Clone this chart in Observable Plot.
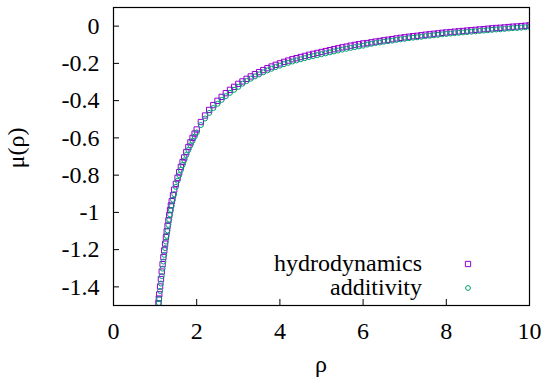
<!DOCTYPE html>
<html><head><meta charset="utf-8">
<script src="https://cdn.jsdelivr.net/npm/d3@7"></script>
<script src="https://cdn.jsdelivr.net/npm/@observablehq/plot@0.6"></script>
<style>
html,body{margin:0;padding:0;background:#fff}
#chart svg{display:block}
#chart svg, #chart svg text{font-family:"Liberation Serif",serif !important;}
</style>
</head><body><div id="chart"></div>
<script>
const rho = [1.08,1.09,1.10,1.12,1.14,1.16,1.18,1.20,1.22,1.24,1.26,1.28,1.30,1.32,1.34,1.36,1.38,1.40,1.43,1.46,1.50,1.54,1.58,1.62,1.66,1.70,1.75,1.80,1.85,1.90,1.95,2.00,
2.1,2.2,2.3,2.4,2.5,2.6,2.7,2.8,2.9,3.0,3.1,3.2,3.3,3.4,3.5,3.6,3.7,3.8,3.9,4.0,
4.1,4.2,4.3,4.4,4.5,4.6,4.7,4.8,4.9,5.0,5.1,5.2,5.3,5.4,5.5,5.6,5.7,5.8,5.9,6.0,
6.1,6.2,6.3,6.4,6.5,6.6,6.7,6.8,6.9,7.0,7.1,7.2,7.3,7.4,7.5,7.6,7.7,7.8,7.9,8.0,
8.1,8.2,8.3,8.4,8.5,8.6,8.7,8.8,8.9,9.0,9.1,9.2,9.3,9.4,9.5,9.6,9.7,9.8,9.9,10.0];

const muHydro = [-1.488,-1.463,-1.440,-1.398,-1.358,-1.318,-1.278,-1.240,-1.204,-1.168,-1.133,-1.102,-1.073,-1.043,-1.015,-0.988,-0.963,-0.940,-0.908,-0.878,-0.847,-0.814,-0.784,-0.756,-0.730,-0.705,-0.676,-0.649,-0.624,-0.600,-0.577,-0.555,
-0.515,-0.480,-0.450,-0.424,-0.401,-0.380,-0.360,-0.342,-0.326,-0.310,-0.297,-0.283,-0.270,-0.258,-0.247,-0.236,-0.226,-0.217,-0.208,-0.200,
-0.192,-0.185,-0.178,-0.172,-0.166,-0.160,-0.154,-0.149,-0.144,-0.139,-0.134,-0.129,-0.124,-0.119,-0.114,-0.110,-0.105,-0.101,-0.097,-0.093,
-0.091,-0.087,-0.083,-0.080,-0.076,-0.073,-0.070,-0.066,-0.063,-0.060,-0.057,-0.054,-0.052,-0.049,-0.046,-0.044,-0.041,-0.039,-0.036,-0.034,
-0.032,-0.030,-0.028,-0.026,-0.024,-0.022,-0.020,-0.018,-0.016,-0.014,-0.012,-0.010,-0.009,-0.007,-0.005,-0.003,-0.002,0.000,0.002,0.004];

const muAdd = [-1.512,-1.487,-1.464,-1.422,-1.382,-1.342,-1.302,-1.264,-1.228,-1.192,-1.157,-1.126,-1.097,-1.067,-1.039,-1.012,-0.987,-0.964,-0.932,-0.902,-0.863,-0.830,-0.800,-0.772,-0.746,-0.721,-0.692,-0.665,-0.640,-0.616,-0.593,-0.571,
-0.531,-0.496,-0.466,-0.440,-0.417,-0.396,-0.376,-0.358,-0.342,-0.326,-0.309,-0.295,-0.282,-0.270,-0.259,-0.248,-0.238,-0.229,-0.220,-0.212,
-0.204,-0.197,-0.190,-0.184,-0.178,-0.172,-0.166,-0.161,-0.156,-0.151,-0.146,-0.141,-0.136,-0.131,-0.126,-0.122,-0.117,-0.113,-0.109,-0.105,
-0.099,-0.095,-0.091,-0.088,-0.084,-0.081,-0.078,-0.074,-0.071,-0.068,-0.065,-0.062,-0.060,-0.057,-0.054,-0.052,-0.049,-0.047,-0.044,-0.042,
-0.040,-0.038,-0.036,-0.034,-0.032,-0.030,-0.028,-0.026,-0.024,-0.022,-0.020,-0.018,-0.017,-0.015,-0.013,-0.011,-0.010,-0.008,-0.006,-0.004];

const xTicks = [0, 2, 4, 6, 8, 10];
const yTicks = [-1.4, -1.2, -1, -0.8, -0.6, -0.4, -0.2, 0];
const seriesNames = ["hydrodynamics", "additivity"];
const seriesColors = ["#9400d3", "#009e73"];
const xLabel = "ρ";
const yLabel = "μ(ρ)";

const hydro = rho.map((r, i) => ({rho: r, mu: muHydro[i]}));
const additivity = rho.map((r, i) => ({rho: r, mu: muAdd[i]}));

const font = "Liberation Serif";
const fs = 24;

const plot = Plot.plot({
  width: 545,
  height: 378,
  marginLeft: 113,
  marginRight: 16,
  marginTop: 7,
  marginBottom: 73,
  style: {fontFamily: font, fontSize: fs + "px", background: "#fff", color: "#000"},
  x: {domain: [0, 10]},
  y: {domain: [-1.5, 0.1]},
  marks: [
    Plot.dot(hydro, {x: "rho", y: "mu", symbol: "square", r: 3, stroke: seriesColors[0], strokeWidth: 1, fill: "none", clip: true}),
    Plot.dot(additivity, {x: "rho", y: "mu", symbol: "circle", r: 2.5, stroke: seriesColors[1], strokeWidth: 1, fill: "none", clip: true}),
    Plot.frame({stroke: "#000", strokeWidth: 1.2}),
    Plot.axisX({ticks: xTicks, tickSize: -6, tickPadding: 22, tickFormat: d => String(d), label: null, stroke: "#000", fontSize: fs}),
    Plot.axisY({ticks: yTicks, tickSize: -6, tickPadding: 20, tickFormat: d => String(d), label: null, stroke: "#000", fontSize: fs})
  ]
});

document.getElementById("chart").appendChild(plot);

const svg = d3.select(plot);
// axis titles
svg.append("text")
  .attr("x", 321).attr("y", 372)
  .attr("text-anchor", "middle")
  .attr("font-family", font).attr("font-size", fs)
  .attr("fill", "#000")
  .text(xLabel);
svg.append("text")
  .attr("transform", "translate(24,148) rotate(-90)")
  .attr("text-anchor", "middle")
  .attr("font-family", font).attr("font-size", fs)
  .attr("fill", "#000")
  .text(yLabel);

// legend
const legendRows = [
  {name: seriesNames[0], color: seriesColors[0], symbol: d3.symbolSquare, size: 28, y: 264},
  {name: seriesNames[1], color: seriesColors[1], symbol: d3.symbolCircle, size: 18, y: 288}
];
const lg = svg.append("g").attr("class", "legend");
legendRows.forEach(row => {
  lg.append("text")
    .attr("x", 422).attr("y", row.y + 7)
    .attr("text-anchor", "end")
    .attr("font-family", font).attr("font-size", fs)
    .attr("fill", "#000")
    .text(row.name);
  lg.append("path")
    .attr("transform", `translate(468,${row.y})`)
    .attr("d", d3.symbol(row.symbol, row.size)())
    .attr("fill", "none")
    .attr("stroke", row.color)
    .attr("stroke-width", 1);
});
</script>
</body></html>
